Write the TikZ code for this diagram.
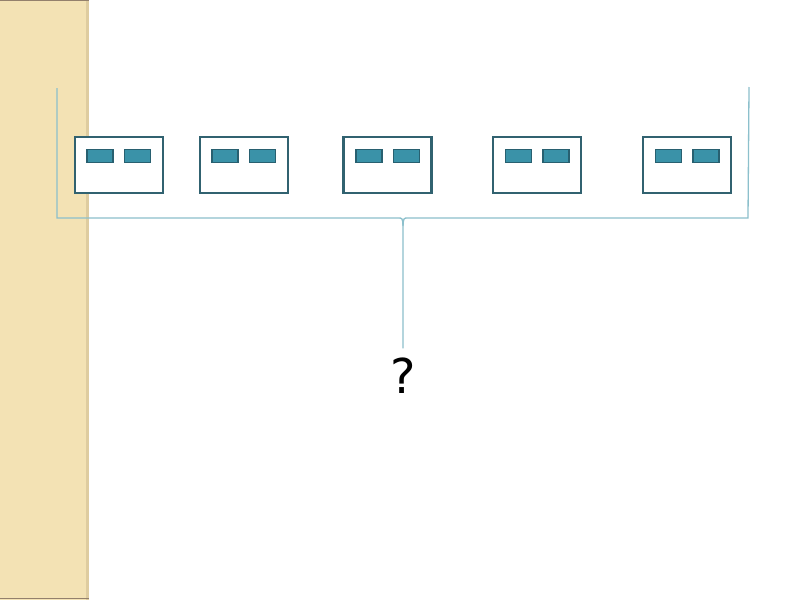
\documentclass[tikz,border=0pt]{standalone}
\usepackage{fontspec}
\setmainfont{DejaVu Sans}
\usetikzlibrary{calc}
\definecolor{tan}{RGB}{243,226,180}
\definecolor{tanedge}{RGB}{222,204,160}
\definecolor{boxline}{RGB}{49,98,112}
\definecolor{slotfill}{RGB}{58,146,168}
\definecolor{slotline}{RGB}{40,96,112}
\definecolor{braceline}{RGB}{140,192,204}
\tikzset{
  card/.style={draw=boxline,line width=2.2pt,fill=white,minimum width=88pt,minimum height=56pt,inner sep=0pt},
  slot/.style={draw=slotline,line width=1.6pt,fill=slotfill,minimum width=26pt,minimum height=13pt,inner sep=0pt},
  brace/.style={draw=braceline,line width=1.3pt}
}
\begin{document}
\begin{tikzpicture}[x=1pt,y=-1pt]
\pgfmathsetmacro{\cy}{165.3}
\pgfmathsetmacro{\dx}{18.8}
\pgfmathsetmacro{\dy}{9.3}
\useasboundingbox (0,0) rectangle (800,600);
\fill[white] (0,0) rectangle (800,600);
\fill[tan] (0,0) rectangle (88,600);
\fill[tanedge] (85.5,0) rectangle (88.5,600);
\draw[gray!70!brown,line width=1pt] (0,0.5)--(88.5,0.5) (0,598.5)--(88.5,598.5);
\node[font=\fontsize{48}{48}\selectfont,inner sep=0pt] (q) at (403,375.5) {?};
\draw[brace] (57,88)--(57,218)--(398,218) .. controls (402.5,218) .. (403,226)coordinate(tip)--([yshift=9pt]q.north);
\draw[brace] (749,87)--(748,218)--(408,218) .. controls (403.5,218) .. (tip);
\foreach \i/\x in {1/118.7,2/243.8,3/387.5,4/537.3,5/687.2}{
\node[card] (b\i) at (\x,\cy) {};
\node[slot] (b\i l) at ($(b\i)+(-\dx,-\dy)$) {};
\node[slot] (b\i r) at ($(b\i)+(\dx,-\dy)$) {};
}
\end{tikzpicture}
\end{document}
